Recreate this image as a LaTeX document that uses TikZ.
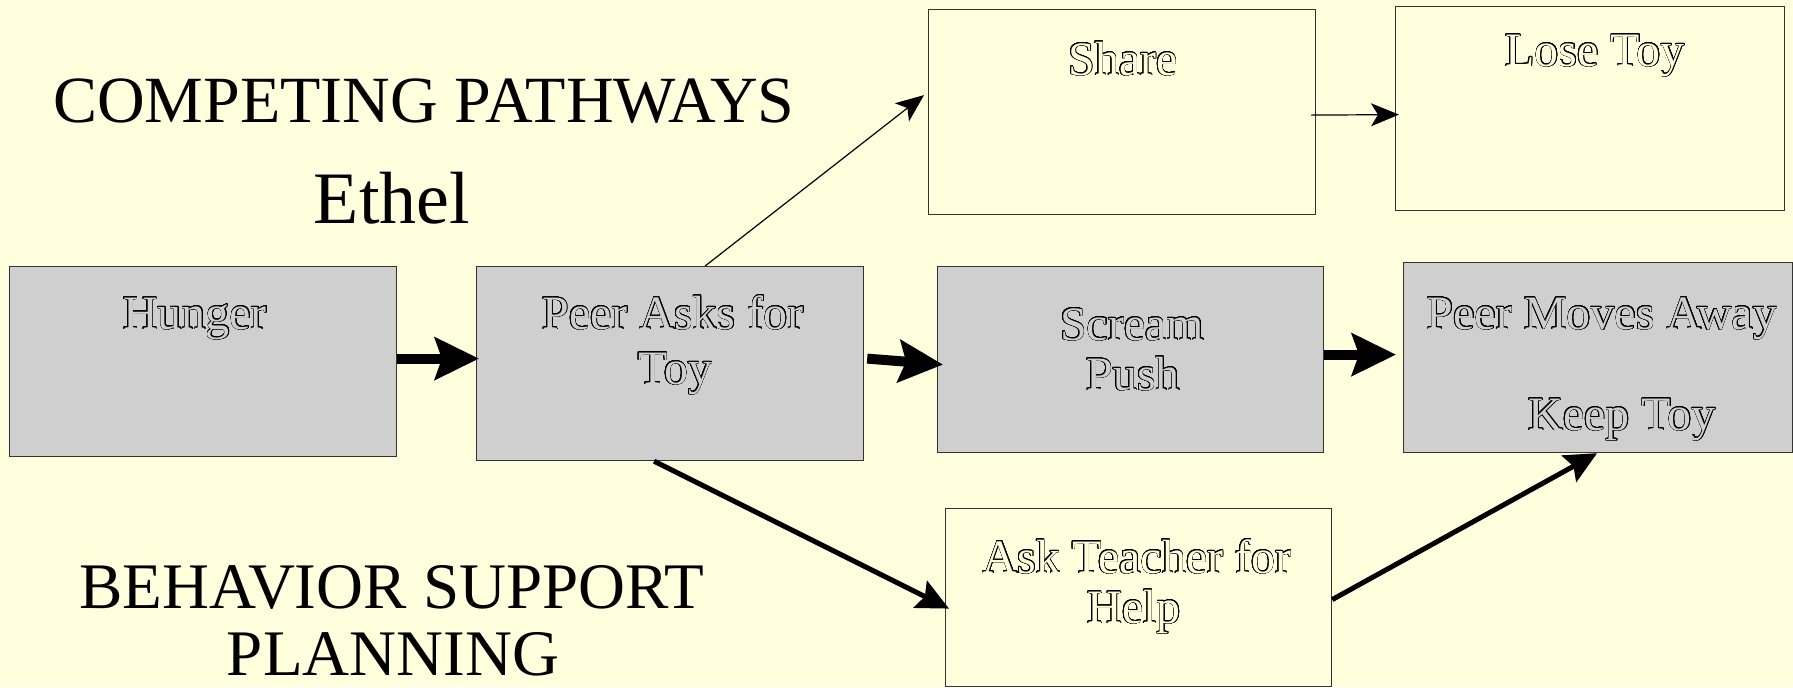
\documentclass[tikz,border=0pt]{standalone}
\usepackage{fontspec}
\setmainfont{Liberation Serif}
\usepackage[copies]{contour}
\usetikzlibrary{arrows.meta}
\definecolor{cream}{RGB}{255,255,221}
\definecolor{boxgray}{RGB}{207,207,207}
\contourlength{0.32pt}
\contournumber{24}
\newcommand{\hollow}[1]{\contour{black}{#1}}
\tikzset{
  panel/.style={draw=black!80, line width=0.6pt, anchor=north west, inner sep=0pt},
  graybox/.style={panel, fill=boxgray},
  creambox/.style={panel, fill=cream},
  boxtext/.style={anchor=base, inner sep=0pt, font=\fontsize{24}{27}\selectfont},
  ontgray/.style={boxtext, text=boxgray},
  ontcream/.style={boxtext, text=cream},
  title/.style={anchor=base, inner sep=0pt, font=\fontsize{33}{35}\selectfont},
  bigarrow/.style={line width=5pt, -{Stealth[length=22pt,width=21pt,inset=3.5pt]}},
  midarrow/.style={line width=2.5pt, -{Stealth[length=16pt,width=15pt,inset=2.5pt]}},
  thinarrow/.style={line width=0.6pt, -{Stealth[length=14pt,width=11.5pt,inset=3.5pt]}},
}
\begin{document}
\begin{tikzpicture}[x=0.5pt,y=-0.5pt]
  \fill[cream] (0,0) rectangle (1793,687);
  \useasboundingbox (0,0) rectangle (1793,687);

  % boxes
  \node[graybox, minimum width=193.5pt, minimum height=95pt] (hunger) at (9,266) {};
  \node[graybox, minimum width=193.5pt, minimum height=97pt] (peer) at (476,266) {};
  \node[graybox, minimum width=193pt, minimum height=93pt] (scream) at (937,266) {};
  \node[graybox, minimum width=194.5pt, minimum height=95pt] (pma) at (1403,262) {};
  \node[creambox, minimum width=193.5pt, minimum height=102.5pt] (share) at (928,9) {};
  \node[creambox, minimum width=194.5pt, minimum height=102pt] (lose) at (1395,6) {};
  \node[creambox, minimum width=193pt, minimum height=89pt] (ask) at (945,508) {};

  % box labels
  \node[ontgray] (tHunger) at (195,329) {\hollow{Hunger}};
  \node[ontgray] (tPeerA) at (673,329) {\hollow{Peer Asks for}};
  \node[ontgray] (tPeerB) at (675,384) {\hollow{Toy}};
  \node[ontgray] (tScreamA) at (1132,340) {\hollow{Scream}};
  \node[ontgray] (tScreamB) at (1133,390) {\hollow{Push}};
  \node[ontgray] (tPmaA) at (1602,329) {\hollow{Peer Moves Away}};
  \node[ontgray] (tPmaB) at (1622,430) {\hollow{Keep Toy}};
  \node[ontcream] (tShare) at (1123,75) {\hollow{Share}};
  \node[ontcream] (tLose) at (1595,66) {\hollow{Lose Toy}};
  \node[ontcream] (tAskA) at (1137,573) {\hollow{Ask Teacher for}};
  \node[ontcream] (tAskB) at (1134,623) {\hollow{Help}};

  % titles
  \node[title] (competing) at (424,122) {COMPETING PATHWAYS};
  \node[title, font=\fontsize{37}{40}\selectfont] (ethel) at (392,223) {Ethel};
  \node[title, font=\fontsize{32.5}{35}\selectfont] (behavior) at (392,608) {BEHAVIOR SUPPORT};
  \node[title, font=\fontsize{32.5}{35}\selectfont] (planning) at (393,675) {PLANNING};

  % connectors
  \draw[bigarrow] ([yshift=1.5pt]hunger.east) -- ([yshift=1.5pt,xshift=1.5pt]hunger.east -| peer.west);
  \draw[bigarrow] ([yshift=2.5pt,xshift=1.5pt]peer.east) -- ([yshift=-2.5pt,xshift=3pt]scream.west);
  \draw[bigarrow] ([yshift=2.5pt]scream.east) -- ([yshift=1.5pt,xshift=-3.5pt]pma.west);
  \draw[thinarrow] ([xshift=17.5pt]peer.north) -- ([yshift=8.5pt,xshift=-2pt]share.west);
  \draw[thinarrow] ([xshift=-2.5pt,yshift=-1.5pt]share.east) -- ([yshift=-3pt,xshift=2pt]lose.west);
  \draw[midarrow] ([xshift=-8pt]peer.south) -- ([yshift=-5.5pt,xshift=2pt]ask.west);
  \draw[midarrow] ([yshift=-1pt]ask.east) -- ([xshift=-0.5pt]pma.south);
\end{tikzpicture}
\end{document}
